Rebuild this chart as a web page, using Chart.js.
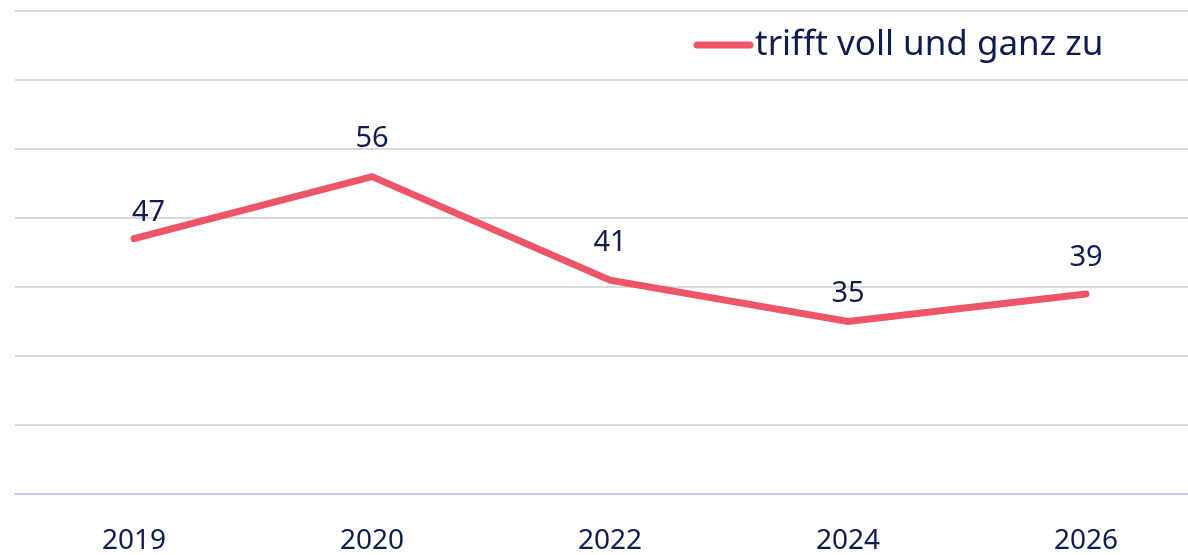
<!DOCTYPE html>
<html>
<head>
<meta charset="utf-8">
<script src="https://cdn.jsdelivr.net/npm/chart.js@4"></script>
<style>
  html, body { margin: 0; padding: 0; background: #fff; overflow: hidden; }
  #wrap { width: 1206px; height: 555px; position: relative; }
</style>
</head>
<body>
<div id="wrap"><canvas id="lineChart"></canvas></div>
<script>
// ─── Data ─────────────────────────────────────────────────────────────────────
const years = ['2019', '2020', '2022', '2024', '2026'];
const fullyAgree = [47, 56, 41, 35, 39];
const seriesLabel = 'trifft voll und ganz zu';

const NAVY = '#0e1c52';
const RED = '#ee5569';
const FONT = '"Noto Sans", "Open Sans", sans-serif';

// value labels above each point
const valueLabels = {
  id: 'valueLabels',
  afterDatasetsDraw(chart) {
    const { ctx } = chart;
    const meta = chart.getDatasetMeta(0);
    const lift = [26, 38, 37, 28, 36];
    ctx.save();
    ctx.font = `29px ${FONT}`;
    ctx.fillStyle = NAVY;
    ctx.textBaseline = 'middle';
    meta.data.forEach((pt, i) => {
      ctx.textAlign = i === 0 ? 'left' : 'center';
      ctx.fillText(String(fullyAgree[i]), pt.x - (i === 0 ? 2 : 0), pt.y - lift[i]);
    });
    ctx.restore();
  },
};

// legend drawn inside the plot, top right
const lineLegend = {
  id: 'lineLegend',
  afterDraw(chart) {
    const { ctx } = chart;
    ctx.save();
    ctx.strokeStyle = RED;
    ctx.lineWidth = 7;
    ctx.lineCap = 'round';
    ctx.beginPath();
    ctx.moveTo(697, 45);
    ctx.lineTo(750, 45);
    ctx.stroke();
    ctx.font = `35px ${FONT}`;
    ctx.fillStyle = NAVY;
    ctx.textAlign = 'left';
    ctx.textBaseline = 'middle';
    ctx.fillText(seriesLabel, 755, 45);
    ctx.restore();
  },
};

const canvas = document.getElementById('lineChart');
canvas.setAttribute('role', 'img');
canvas.setAttribute('aria-label', 'Line chart: trifft voll und ganz zu, 2019 to 2026');

new Chart(canvas.getContext('2d'), {
  type: 'line',
  data: {
    labels: years,
    datasets: [{
      label: seriesLabel,
      data: fullyAgree,
      borderColor: RED,
      backgroundColor: RED,
      borderWidth: 7,
      borderCapStyle: 'round',
      borderJoinStyle: 'miter',
      pointRadius: 0,
      tension: 0,
      fill: false,
    }],
  },
  options: {
    responsive: true,
    maintainAspectRatio: false,
    animation: false,
    layout: { padding: { left: 15, right: 1, top: 11, bottom: 0 } },
    plugins: { legend: { display: false }, tooltip: { enabled: false } },
    scales: {
      x: {
        offset: true,
        grid: { display: false, drawTicks: false },
        border: { display: true, color: '#c5d0f7', width: 2 },
        ticks: { color: NAVY, font: { family: FONT, size: 28 }, padding: 30 },
        afterFit: (axis) => { axis.height = 61; },
      },
      y: {
        min: 10,
        max: 80,
        ticks: { display: false, stepSize: 10 },
        border: { display: false },
        grid: { color: '#d9d9d9', lineWidth: 2, drawTicks: false },
      },
    },
  },
  plugins: [valueLabels, lineLegend],
});
</script>
</body>
</html>
